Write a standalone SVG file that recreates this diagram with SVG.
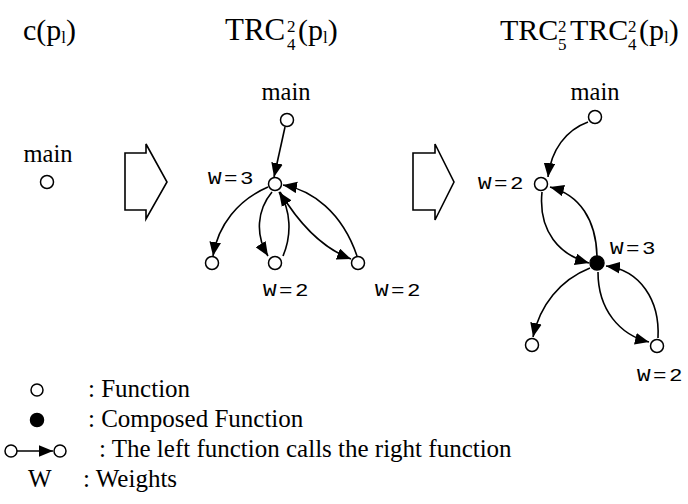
<svg xmlns="http://www.w3.org/2000/svg" width="688" height="504" viewBox="0 0 688 504">
  <style>
    .serif { font-family: "Liberation Serif", "Times New Roman", serif; fill: #000; }
    .title { font-size: 30px; }
    .script { font-size: 17px; }
    .label { font-size: 24.5px; }
    .legend { font-size: 25px; }
    .weight { font-family: "Liberation Mono", "Courier New", monospace; font-size: 18px; letter-spacing: 2px; fill: #000; }
    .fn { fill: #fff; stroke: #000; stroke-width: 1.5; }
    .composed { fill: #000; stroke: #000; stroke-width: 1.5; }
    .edge { fill: none; stroke: #000; stroke-width: 1.6; marker-end: url(#head); }
    .step { fill: #fff; stroke: #000; stroke-width: 1.6; stroke-linejoin: miter; }
  </style>
  <defs>
    <marker id="head" markerUnits="userSpaceOnUse" markerWidth="14" markerHeight="12" refX="12" refY="5" orient="auto" viewBox="0 0 12 10">
      <path d="M0,0 L12,5 L0,10 Z" fill="#000"/>
    </marker>
  </defs>

  <!-- titles -->
  <g id="titles" class="serif">
    <text class="title" x="23" y="40">c(p<tspan class="script" dy="3">l</tspan><tspan dy="-3">)</tspan></text>
    <text class="title" x="225" y="40" style="font-size:31px">TRC</text>
    <text class="script" x="287" y="32">2</text>
    <text class="script" x="287" y="50">4</text>
    <text class="title" x="298" y="40">(p<tspan class="script" dy="3">l</tspan><tspan dy="-3">)</tspan></text>
    <text class="title" x="500" y="40">TRC</text>
    <text class="script" x="558" y="32">2</text>
    <text class="script" x="558" y="50">5</text>
    <text class="title" x="570" y="40">TRC</text>
    <text class="script" x="628" y="32">2</text>
    <text class="script" x="628" y="50">4</text>
    <text class="title" x="639" y="40">(p<tspan class="script" dy="3">l</tspan><tspan dy="-3">)</tspan></text>
  </g>

  <!-- transformation steps -->
  <g id="step1"><path class="step" d="M125,153 H146 V144 L167,182 L146,219 V210 H125 Z"/></g>
  <g id="step2"><path class="step" d="M413,153 H435 V144 L454,182 L435,220 V210 H413 Z"/></g>

  <!-- call edges -->
  <g id="connectors">
    <!-- c(p_l) graph -->
    <path class="edge" d="M285,127 Q280,150 274,177"/>
    <path class="edge" d="M268,187 C238,200 218,225 213,256"/>
    <path class="edge" d="M272,192 C257,210 255,235 268,256"/>
    <path class="edge" d="M283,256 C292,235 291,210 279,192"/>
    <path class="edge" d="M280,192 C298,222 322,248 351,259"/>
    <path class="edge" d="M357,256 C342,212 312,190 283,185"/>
    <!-- composed graph -->
    <path class="edge" d="M588,122 C566,130 551,150 548,177"/>
    <path class="edge" d="M542,192 C538,232 560,255 589,263"/>
    <path class="edge" d="M597,256 C596,220 580,195 550,187"/>
    <path class="edge" d="M590,268 C560,280 540,305 533,337"/>
    <path class="edge" d="M598,272 C598,310 620,335 649,342"/>
    <path class="edge" d="M658,338 C660,300 640,270 606,266"/>
  </g>

  <!-- c(p_l) -->
  <g id="n1-main">
    <text class="serif label" x="48" y="162" text-anchor="middle">main</text>
    <circle class="fn" cx="47" cy="182" r="6.5"/>
  </g>

  <!-- TRC(p_l) -->
  <g id="n2-main">
    <text class="serif label" x="286" y="100" text-anchor="middle">main</text>
    <circle class="fn" cx="287" cy="120" r="6.5"/>
  </g>
  <g id="n2-hub">
    <circle class="fn" cx="275" cy="184" r="6.5"/>
    <text class="weight" transform="translate(208,184) scale(1.25,1)">W=3</text>
  </g>
  <g id="n2-left"><circle class="fn" cx="212" cy="263" r="6.5"/></g>
  <g id="n2-mid">
    <circle class="fn" cx="275" cy="263" r="6.5"/>
    <text class="weight" transform="translate(263,296) scale(1.25,1)">W=2</text>
  </g>
  <g id="n2-right">
    <circle class="fn" cx="358" cy="263" r="6.5"/>
    <text class="weight" transform="translate(375,296) scale(1.25,1)">W=2</text>
  </g>

  <!-- TRC TRC(p_l) -->
  <g id="n3-main">
    <text class="serif label" x="595" y="100" text-anchor="middle">main</text>
    <circle class="fn" cx="595" cy="117" r="6.5"/>
  </g>
  <g id="n3-upper">
    <circle class="fn" cx="541" cy="184" r="6.5"/>
    <text class="weight" transform="translate(478,189) scale(1.25,1)">W=2</text>
  </g>
  <g id="n3-composed">
    <circle class="composed" cx="597" cy="263" r="7"/>
    <text class="weight" transform="translate(610,254) scale(1.25,1)">W=3</text>
  </g>
  <g id="n3-left"><circle class="fn" cx="532" cy="345" r="6.5"/></g>
  <g id="n3-right">
    <circle class="fn" cx="657" cy="346" r="6.5"/>
    <text class="weight" transform="translate(637,381) scale(1.25,1)">W=2</text>
  </g>

  <!-- legend -->
  <g id="legend" class="serif legend">
    <circle class="fn" cx="37" cy="390" r="6"/>
    <text x="88" y="397">: Function</text>
    <circle class="composed" cx="37" cy="420" r="6.5"/>
    <text x="88" y="427">: Composed Function</text>
    <circle class="fn" cx="11" cy="451" r="6"/>
    <line x1="17" y1="451" x2="53" y2="451" stroke="#000" stroke-width="1.6" marker-end="url(#head)"/>
    <circle class="fn" cx="60" cy="451" r="6"/>
    <text x="99" y="457">: The left function calls the right function</text>
    <text x="28" y="487">W</text>
    <text x="83" y="487">: Weights</text>
  </g>
</svg>
